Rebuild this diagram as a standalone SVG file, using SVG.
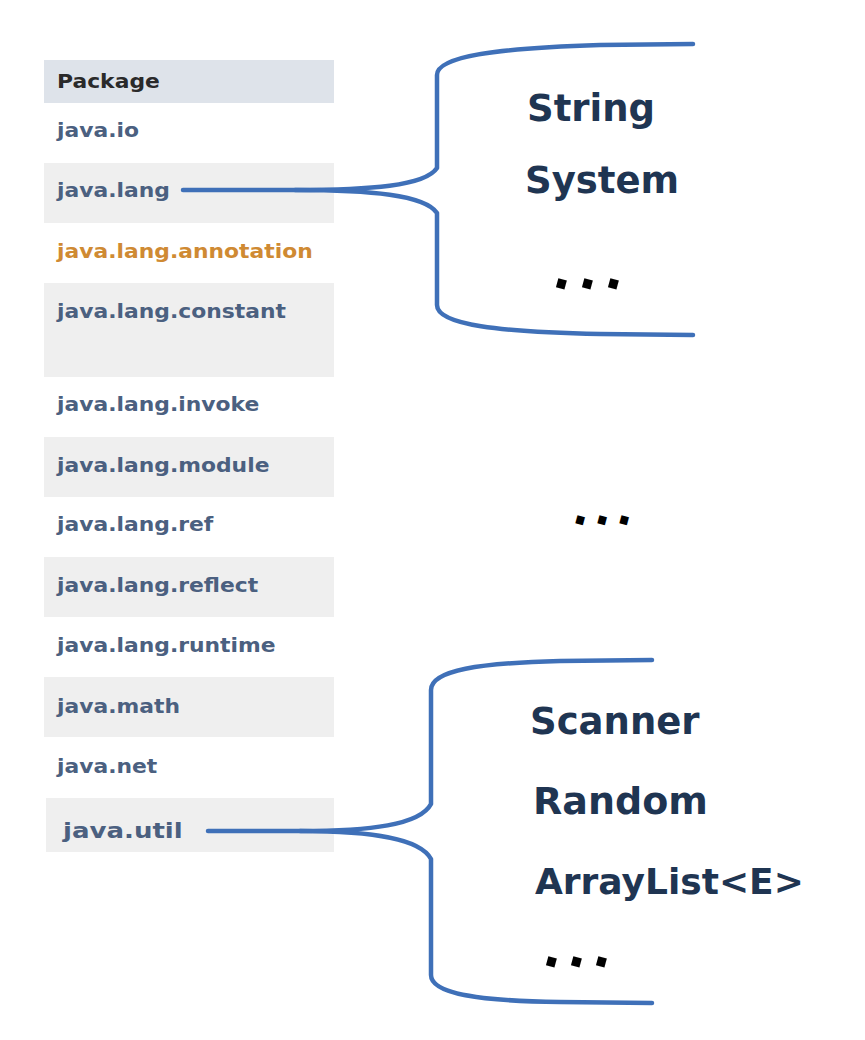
<svg xmlns="http://www.w3.org/2000/svg" width="865" height="1040" viewBox="0 0 865 1040">
<style>
.t{font-family:"DejaVu Sans","Verdana",sans-serif;font-weight:bold;font-size:19px;fill:#4b6080}
.h{fill:#2a2a2a}
.o{fill:#cf8a33}
.g{fill:#efefef}
.w{fill:#ffffff}
.big{font-family:"DejaVu Sans","Verdana",sans-serif;font-weight:bold;font-size:37px;fill:#1f3552}
.dot{font-family:"DejaVu Sans",sans-serif;font-weight:bold;font-size:50px;fill:#000}
.c{fill:none;stroke:#3f70b8;stroke-width:4.5;stroke-linecap:round;stroke-linejoin:round}
</style>
<rect width="865" height="1040" fill="#ffffff"/>
<g id="table">
<g id="header"><rect x="44" y="60" width="290" height="43" fill="#dee3ea"/><text class="t h" transform="translate(57 88) scale(1.15 1)">Package</text></g>
<g id="java-io"><rect class="w" x="44" y="103" width="290" height="60"/><text class="t" transform="translate(57 137) scale(1.15 1)">java.io</text></g>
<g id="java-lang"><rect class="g" x="44" y="163" width="290" height="60"/><text class="t" transform="translate(57 197) scale(1.15 1)">java.lang</text></g>
<g id="java-lang-annotation"><rect class="w" x="44" y="223" width="290" height="60"/><text class="t o" transform="translate(57 258) scale(1.15 1)">java.lang.annotation</text></g>
<g id="java-lang-constant"><rect class="g" x="44" y="283" width="290" height="94"/><text class="t" transform="translate(57 318) scale(1.15 1)">java.lang.constant</text></g>
<g id="java-lang-invoke"><rect class="w" x="44" y="377" width="290" height="60"/><text class="t" transform="translate(57 411) scale(1.15 1)">java.lang.invoke</text></g>
<g id="java-lang-module"><rect class="g" x="44" y="437" width="290" height="60"/><text class="t" transform="translate(57 472) scale(1.15 1)">java.lang.module</text></g>
<g id="java-lang-ref"><rect class="w" x="44" y="497" width="290" height="60"/><text class="t" transform="translate(57 531) scale(1.15 1)">java.lang.ref</text></g>
<g id="java-lang-reflect"><rect class="g" x="44" y="557" width="290" height="60"/><text class="t" transform="translate(57 592) scale(1.15 1)">java.lang.reflect</text></g>
<g id="java-lang-runtime"><rect class="w" x="44" y="617" width="290" height="60"/><text class="t" transform="translate(57 652) scale(1.15 1)">java.lang.runtime</text></g>
<g id="java-math"><rect class="g" x="44" y="677" width="290" height="60"/><text class="t" transform="translate(57 713) scale(1.15 1)">java.math</text></g>
<g id="java-net"><rect class="w" x="44" y="737" width="290" height="60"/><text class="t" transform="translate(57 773) scale(1.15 1)">java.net</text></g>
<g id="java-util"><rect class="g" x="46" y="798" width="288" height="54"/><text class="t" style="font-size:21px" transform="translate(63 838) scale(1.24 1)">java.util</text></g>
</g>
<g id="connectors">
<path class="c" d="M183,190 L295,190 C370,190 425,186 437,168 L437,75 C437,56 500,48 600,45 L693,44"/>
<path class="c" d="M295,190 C370,190 425,195 437,213 L437,305 C437,325 500,332 600,334 L693,335"/>
<path class="c" d="M208,831 L300,831 C370,831 420,825 431,804 L431,690 C431,670 480,663 560,661 L652,660"/>
<path class="c" d="M300,831 C370,831 420,838 431,859 L431,975 C431,994 480,1001 560,1002 L652,1003"/>
</g>
<g id="lang-members">
<text class="big" x="527" y="121">String</text>
<text class="big" x="525" y="193">System</text>
<text class="dot" x="551 577 603" y="286" rotate="15 15 15">...</text>
</g>
<g id="middle-ellipsis">
<text class="dot" x="571 593 615" y="522" rotate="15 15 15" style="font-size:44px">...</text>
</g>
<g id="util-members">
<text class="big" x="530" y="734" style="font-size:37px">Scanner</text>
<text class="big" x="533" y="814" style="font-size:38px">Random</text>
<text class="big" x="535" y="894" style="font-size:36px">ArrayList&lt;E&gt;</text>
<text class="dot" x="541 566 591" y="964" rotate="15 15 15">...</text>
</g>
</svg>
